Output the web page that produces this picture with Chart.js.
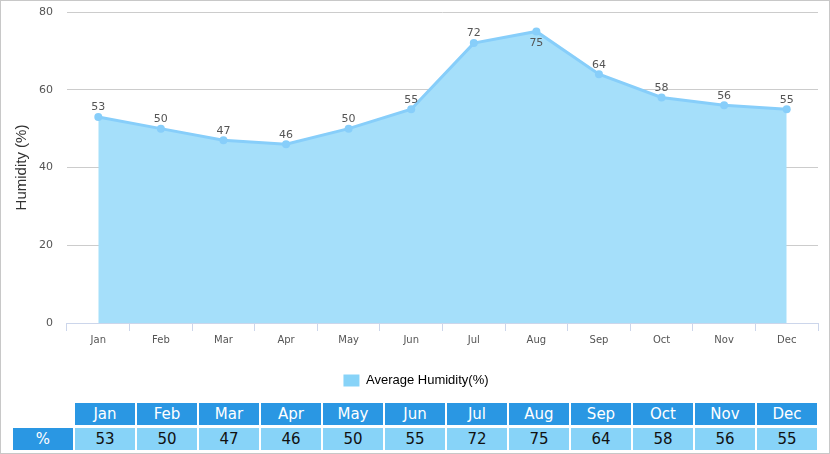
<!DOCTYPE html>
<html>
<head>
<meta charset="utf-8">
<script src="https://cdn.jsdelivr.net/npm/chart.js@4.4.0/dist/chart.umd.min.js"></script>
<style>
  html, body { margin: 0; padding: 0; background: #fff; }
  #wrap { position: relative; width: 828px; height: 452px; border: 1px solid #c8c8c8; overflow: hidden; }
  #chartBox { position: absolute; left: 0; top: 0; width: 828px; height: 396px; }
  #dataTable { position: absolute; left: 10px; top: 399px; border-collapse: separate; border-spacing: 2px 3px;
               font-family: "DejaVu Sans", Verdana, sans-serif; font-size: 15px; }
  #dataTable td { width: 60px; height: 22px; padding: 0; text-align: center; }
  #dataTable td.head { background: #2a97e3; color: #fff; }
  #dataTable td.val { background: #87d3f8; color: #111; }
  #dataTable td.blank { background: transparent; }
</style>
</head>
<body>
<div id="wrap">
  <div id="chartBox"><canvas id="humidityChart"></canvas></div>
  <table id="dataTable"></table>
</div>
<script>
const months = ['Jan', 'Feb', 'Mar', 'Apr', 'May', 'Jun', 'Jul', 'Aug', 'Sep', 'Oct', 'Nov', 'Dec'];
const humidity = [53, 50, 47, 46, 50, 55, 72, 75, 64, 58, 56, 55];
const yTicks = [0, 20, 40, 60, 80];
const seriesName = 'Average Humidity(%)';
const rowLabel = '%';

// value labels over each point; the top one goes below so it stays inside
const pointLabels = {
    id: 'pointLabels',
    afterDatasetsDraw(chart) {
        const ctx = chart.ctx;
        const meta = chart.getDatasetMeta(0);
        ctx.save();
        ctx.font = '11px "DejaVu Sans", Verdana, sans-serif';
        ctx.fillStyle = '#555';
        ctx.textAlign = 'center';
        meta.data.forEach(function(pt, i) {
            const v = humidity[i];
            if (v === Math.max.apply(null, humidity)) {
                ctx.textBaseline = 'top';
                ctx.fillText(v, pt.x, pt.y + 6);
            } else {
                ctx.textBaseline = 'bottom';
                ctx.fillText(v, pt.x, pt.y - 4);
            }
        });
        ctx.restore();
    }
};

document.addEventListener('DOMContentLoaded', function() {
    const ctx = document.getElementById('humidityChart');

    new Chart(ctx, {
        type: 'line',
        data: {
            labels: months,
            datasets: [{
                label: seriesName,
                data: humidity,
                borderColor: '#87cefa',
                backgroundColor: '#a5dffa',
                borderWidth: 3,
                fill: 'origin',
                tension: 0,
                pointRadius: 4,
                pointBackgroundColor: '#87cefa',
                pointBorderColor: '#87cefa',
                pointBorderWidth: 0
            }]
        },
        options: {
            responsive: true,
            maintainAspectRatio: false,
            animation: false,
            layout: { padding: { top: 11, right: 11, left: 13, bottom: 0 } },
            scales: {
                x: {
                    offset: true,
                    grid: {
                        display: true,
                        offset: true,
                        drawOnChartArea: false,
                        drawTicks: true,
                        tickLength: 8,
                        color: '#ccd6eb'
                    },
                    border: { display: true, color: '#ccd6eb' },
                    ticks: {
                        color: '#555',
                        padding: 3,
                        font: { family: '"DejaVu Sans", Verdana, sans-serif', size: 10 }
                    }
                },
                y: {
                    min: 0,
                    max: 80,
                    afterBuildTicks: function(axis) {
                        axis.ticks = yTicks.map(function(v) { return { value: v }; });
                    },
                    // invisible tick marks give the gap between labels and plot
                    grid: { color: '#cccccc', drawTicks: true, tickLength: 14, tickColor: 'rgba(0,0,0,0)' },
                    border: { display: false },
                    ticks: {
                        color: '#555',
                        padding: 0,
                        font: { family: '"DejaVu Sans", Verdana, sans-serif', size: 11 }
                    },
                    title: {
                        display: true,
                        text: 'Humidity (%)',
                        color: '#333',
                        padding: { top: 0, bottom: 10 },
                        font: { family: '"Liberation Sans", Arial, sans-serif', size: 15, lineHeight: 1 }
                    }
                }
            },
            plugins: {
                legend: {
                    display: true,
                    position: 'bottom',
                    labels: {
                        boxWidth: 16,
                        boxHeight: 12,
                        padding: 25,
                        color: '#111',
                        font: { family: '"Liberation Sans", Arial, sans-serif', size: 13 },
                        generateLabels: function(chart) {
                            return [{
                                text: seriesName,
                                fillStyle: '#87d3f8',
                                strokeStyle: '#87d3f8',
                                lineWidth: 0,
                                datasetIndex: 0
                            }];
                        }
                    }
                },
                tooltip: { enabled: false }
            }
        },
        plugins: [pointLabels]
    });

    // data table under the chart
    const table = document.getElementById('dataTable');
    const headRow = table.insertRow();
    const blank = headRow.insertCell();
    blank.className = 'blank';
    months.forEach(function(m) {
        const c = headRow.insertCell();
        c.className = 'head';
        c.textContent = m;
    });
    const valRow = table.insertRow();
    const lab = valRow.insertCell();
    lab.className = 'head';
    lab.textContent = rowLabel;
    humidity.forEach(function(v) {
        const c = valRow.insertCell();
        c.className = 'val';
        c.textContent = v;
    });
});
</script>
</body>
</html>
